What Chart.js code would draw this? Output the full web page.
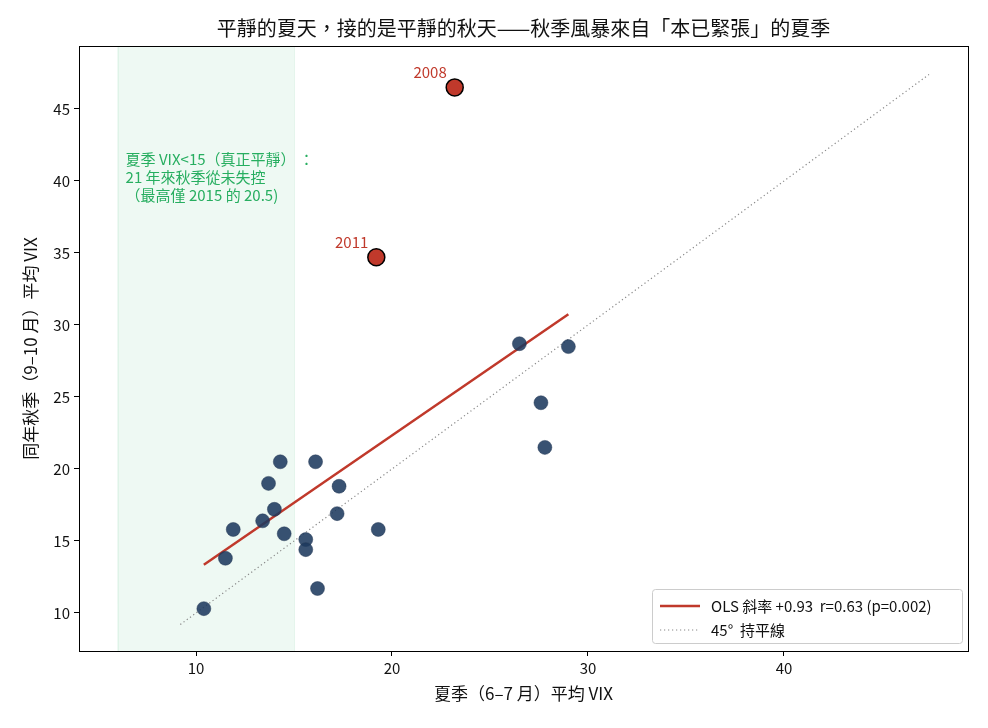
<!DOCTYPE html>
<html>
<head>
<meta charset="utf-8">
<script src="https://cdn.jsdelivr.net/npm/chart.js@4.4.0/dist/chart.umd.min.js"></script>
<style>
  html, body { margin: 0; padding: 0; background: #fff; }
  #wrap { width: 988px; height: 728px; }
</style>
</head>
<body>
<div id="wrap"><canvas id="chart" width="988" height="728"></canvas></div>
<script>
// summer (Jun-Jul) avg VIX vs autumn (Sep-Oct) avg VIX, one point per year
const summerVix = [10.4, 11.5, 11.9, 13.4, 13.7, 14.0, 14.3, 14.5, 15.6, 15.6, 16.1, 16.2, 17.2, 17.3, 19.3, 26.5, 29.0, 27.6, 27.8];
const autumnVix = [10.3, 13.8, 15.8, 16.4, 19.0, 17.2, 20.5, 15.5, 15.1, 14.4, 20.5, 11.7, 16.9, 18.8, 15.8, 28.7, 28.5, 24.6, 21.5];

const highlightYears = ['2008', '2011'];
const highlightSummer = [23.2, 19.2];
const highlightAutumn = [46.5, 34.7];

const olsX = [10.4, 29.0];
const olsY = [13.35, 30.75];
const diagX = [9.2, 47.4];

const calmZone = [6, 15];
const xTicks = [10, 20, 30, 40];
const yTicks = [10, 15, 20, 25, 30, 35, 40, 45];

const TITLE = '平靜的夏天，接的是平靜的秋天——秋季風暴來自「本已緊張」的夏季';
const FONT = "'Noto Sans CJK TC', 'Noto Sans', sans-serif";

// shaded calm-summer band + its note + year labels
const bandPlugin = {
    id: 'band',
    beforeDatasetsDraw(chart) {
        const { ctx, chartArea, scales } = chart;
        const x0 = scales.x.getPixelForValue(calmZone[0]);
        const x1 = scales.x.getPixelForValue(calmZone[1]);
        ctx.save();
        ctx.fillStyle = 'rgba(39, 174, 96, 0.08)';
        ctx.fillRect(x0, chartArea.top, x1 - x0, chartArea.bottom - chartArea.top);
        ctx.strokeStyle = 'rgba(39, 174, 96, 0.12)';
        ctx.lineWidth = 1;
        ctx.beginPath();
        ctx.moveTo(x0 + 0.5, chartArea.top); ctx.lineTo(x0 + 0.5, chartArea.bottom);
        ctx.moveTo(x1 + 0.5, chartArea.top); ctx.lineTo(x1 + 0.5, chartArea.bottom);
        ctx.stroke();
        ctx.restore();
    },
    afterDatasetsDraw(chart) {
        const { ctx, scales } = chart;
        ctx.save();
        ctx.font = '15px ' + FONT;
        ctx.fillStyle = '#27ae60';
        ctx.textBaseline = 'middle';
        ctx.textAlign = 'left';
        const tx = scales.x.getPixelForValue(calmZone[0]) + 8;
        const ty = scales.y.getPixelForValue(41.5);
        ctx.fillText('夏季 VIX<15（真正平靜） ：', tx, ty);
        ctx.fillText('21 年來秋季從未失控', tx, ty + 18);
        ctx.fillText('（最高僅 2015 的 20.5)', tx, ty + 36);

        ctx.fillStyle = '#c0392b';
        ctx.textAlign = 'right';
        ctx.textBaseline = 'alphabetic';
        highlightYears.forEach((yr, i) => {
            const px = scales.x.getPixelForValue(highlightSummer[i]);
            const py = scales.y.getPixelForValue(highlightAutumn[i]);
            ctx.fillText(yr, px - 8, py - 9);
        });
        ctx.restore();
    }
};

// matplotlib-style legend box in the lower right, title centred over the axes, frame
const decorPlugin = {
    id: 'decor',
    afterDraw(chart) {
        const { ctx, chartArea: a } = chart;
        const w = 310, h = 54;
        const x = a.right - w - 6;
        const y = a.bottom - h - 8;
        ctx.save();
        ctx.fillStyle = 'rgba(255,255,255,0.85)';
        ctx.strokeStyle = '#cccccc';
        ctx.lineWidth = 1;
        ctx.beginPath();
        ctx.roundRect(x + 0.5, y + 0.5, w, h, 3);
        ctx.fill();
        ctx.stroke();

        ctx.strokeStyle = '#c0392b';
        ctx.lineWidth = 2.5;
        ctx.beginPath();
        ctx.moveTo(x + 8, y + 17); ctx.lineTo(x + 48, y + 17);
        ctx.stroke();

        ctx.strokeStyle = '#888888';
        ctx.lineWidth = 1.2;
        ctx.setLineDash([1.2, 2.8]);
        ctx.beginPath();
        ctx.moveTo(x + 8, y + 41); ctx.lineTo(x + 48, y + 41);
        ctx.stroke();
        ctx.setLineDash([]);

        ctx.fillStyle = '#111';
        ctx.font = '15px ' + FONT;
        ctx.textBaseline = 'middle';
        ctx.textAlign = 'left';
        ctx.fillText('OLS 斜率 +0.93  r=0.63 (p=0.002)', x + 59, y + 17);
        ctx.fillText('45°  持平線', x + 59, y + 41);

        ctx.font = '20px ' + FONT;
        ctx.textAlign = 'center';
        ctx.fillText(TITLE, (a.left + a.right) / 2, 28);

        ctx.strokeStyle = '#000';
        ctx.lineWidth = 1;
        ctx.strokeRect(Math.round(a.left) + 0.5, Math.round(a.top) + 0.5,
            Math.round(a.right - a.left), Math.round(a.bottom - a.top));
        ctx.restore();
    }
};

const ctx = document.getElementById('chart').getContext('2d');
new Chart(ctx, {
    type: 'scatter',
    data: {
        datasets: [
            {
                label: '45° 持平線',
                type: 'line',
                data: diagX.map(v => ({ x: v, y: v })),
                borderColor: '#888888',
                borderWidth: 1.2,
                borderDash: [1.2, 2.8],
                pointRadius: 0,
                order: 3
            },
            {
                label: 'OLS',
                type: 'line',
                data: olsX.map((v, i) => ({ x: v, y: olsY[i] })),
                borderColor: '#c0392b',
                borderWidth: 2.5,
                pointRadius: 0,
                order: 2
            },
            {
                label: 'years',
                data: summerVix.map((v, i) => ({ x: v, y: autumnVix[i] })),
                backgroundColor: 'rgba(30, 58, 95, 0.88)',
                borderColor: 'rgba(30, 50, 80, 0.9)',
                borderWidth: 0.5,
                pointRadius: 7,
                order: 1
            },
            {
                label: 'highlight',
                data: highlightSummer.map((v, i) => ({ x: v, y: highlightAutumn[i] })),
                backgroundColor: '#c0392b',
                borderColor: '#000',
                borderWidth: 1.5,
                pointRadius: 8.5,
                order: 0
            }
        ]
    },
    options: {
        responsive: false,
        animation: false,
        layout: { padding: { left: 0, right: 20, top: 46, bottom: 0 } },
        scales: {
            x: {
                type: 'linear',
                min: 4.03,
                max: 49.39,
                afterBuildTicks: s => { s.ticks = xTicks.map(v => ({ value: v })); },
                afterFit: s => { s.height = 77; },
                grid: { drawOnChartArea: false, tickLength: 5, color: '#000' },
                border: { display: false },
                ticks: { color: '#111', font: { family: FONT, size: 15 }, padding: 3 },
                title: {
                    display: true,
                    text: '夏季（6–7 月）平均 VIX',
                    color: '#111',
                    font: { family: FONT, size: 17 },
                    padding: { top: 0, bottom: 24 }
                }
            },
            y: {
                type: 'linear',
                min: 7.36,
                max: 49.375,
                afterBuildTicks: s => { s.ticks = yTicks.map(v => ({ value: v })); },
                afterFit: s => { s.width = 79; },
                grid: { drawOnChartArea: false, tickLength: 5, color: '#000' },
                border: { display: false },
                ticks: { color: '#111', font: { family: FONT, size: 15 }, padding: 4 },
                title: {
                    display: true,
                    text: '同年秋季（9–10 月）平均 VIX',
                    color: '#111',
                    font: { family: FONT, size: 17 },
                    padding: { top: 20, bottom: 0 }
                }
            }
        },
        plugins: {
            legend: { display: false },
            tooltip: { enabled: false },
            title: { display: false }
        }
    },
    plugins: [bandPlugin, decorPlugin]
});
</script>
</body>
</html>
